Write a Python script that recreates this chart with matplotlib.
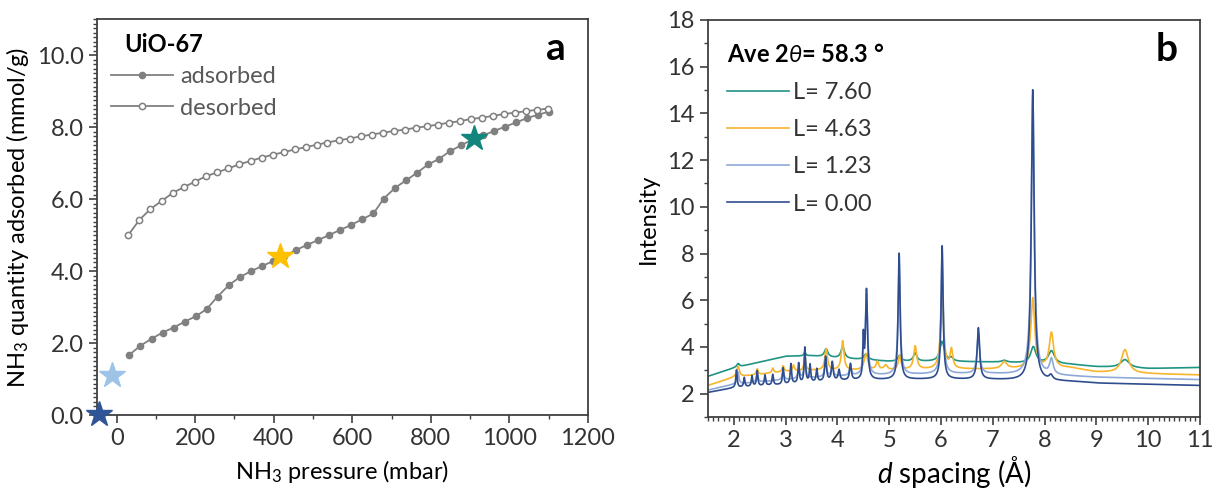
import matplotlib

matplotlib.use("Agg")

import matplotlib.pyplot as plt
import numpy as np
from matplotlib.lines import Line2D
from matplotlib.ticker import MultipleLocator

plt.rcParams["font.family"] = ["Lato", "DejaVu Sans"]
plt.rcParams["mathtext.fontset"] = "custom"
plt.rcParams["mathtext.rm"] = "Lato"
plt.rcParams["mathtext.it"] = "Lato:italic"
plt.rcParams["mathtext.bf"] = "Lato:bold"

# ---- panel a: NH3 isotherm ----
ads_p = [31, 60, 89, 117, 145, 173, 201, 229, 257, 286, 315, 343, 371, 399, 427,
         456, 484, 513, 541, 569, 597, 626, 654, 680, 709, 737, 765, 793, 820,
         849, 877, 905, 934, 961, 989, 1018, 1045, 1073, 1101]
ads_q = [1.66, 1.92, 2.12, 2.29, 2.43, 2.59, 2.74, 2.94, 3.29, 3.61, 3.84, 4.00,
         4.14, 4.28, 4.41, 4.58, 4.72, 4.86, 5.00, 5.14, 5.28, 5.44, 5.60, 6.01,
         6.31, 6.52, 6.73, 6.96, 7.11, 7.33, 7.49, 7.65, 7.77, 7.89, 8.01, 8.13,
         8.25, 8.34, 8.43]
des_p = [29, 58, 86, 115, 143, 171, 199, 227, 256, 284, 312, 341, 369, 397, 426,
         454, 482, 510, 536, 565, 593, 621, 649, 677, 706, 734, 762, 790, 818,
         846, 873, 901, 930, 958, 986, 1015, 1043, 1071, 1099]
des_q = [4.99, 5.42, 5.72, 5.95, 6.17, 6.33, 6.48, 6.63, 6.74, 6.85, 6.96, 7.06,
         7.15, 7.23, 7.30, 7.38, 7.44, 7.51, 7.57, 7.63, 7.68, 7.74, 7.79, 7.84,
         7.89, 7.93, 7.98, 8.02, 8.07, 8.12, 8.16, 8.22, 8.26, 8.31, 8.36, 8.40,
         8.44, 8.48, 8.51]
star_p = [-45, -13, 416, 910]
star_q = [0.03, 1.10, 4.43, 7.69]
star_colors = ["#2F5597", "#9DC3E6", "#FFC000", "#12857C"]

# ---- panel b: diffraction patterns (baseline anchors + peaks) ----
labels = ["L= 7.60", "L= 4.63", "L= 1.23", "L= 0.00"]
colors = ["#1F9484", "#F7B52C", "#8EA9D8", "#2F4D8E"]

base_d = [1.5, 2.0, 3.0, 3.5, 4.0, 5.0, 6.0, 7.0, 8.5, 9.0, 10.0, 11.0]
base_teal = [2.74, 3.10, 3.60, 3.62, 3.52, 3.38, 3.38, 3.35, 3.25, 3.15, 3.07, 3.12]
base_gold = [2.35, 2.70, 2.95, 3.00, 3.00, 3.00, 3.05, 3.05, 3.10, 2.92, 2.85, 2.80]
base_light = [2.15, 2.40, 2.60, 2.68, 2.75, 2.80, 2.85, 2.85, 2.75, 2.70, 2.65, 2.60]
base_dark = [2.05, 2.25, 2.40, 2.48, 2.55, 2.60, 2.62, 2.60, 2.52, 2.45, 2.40, 2.35]

pk_teal_d = [2.08, 3.37, 3.78, 4.10, 4.55, 5.20, 5.50, 6.02, 6.20, 7.22, 7.78, 8.13, 9.55]
pk_teal_h = [0.15, 0.15, 0.35, 0.50, 0.25, 0.25, 0.35, 0.85, 0.15, 0.08, 0.70, 0.55, 0.35]
pk_teal_w = [0.03, 0.02, 0.04, 0.04, 0.05, 0.04, 0.04, 0.05, 0.04, 0.06, 0.06, 0.07, 0.10]

pk_gold_d = [2.08, 2.45, 2.75, 2.95, 3.15, 3.37, 3.78, 4.10, 4.55, 4.77, 4.93,
             5.20, 5.50, 6.02, 6.20, 7.22, 7.77, 8.13, 9.55]
pk_gold_h = [0.45, 0.25, 0.20, 0.25, 0.25, 0.60, 0.90, 1.25, 0.70, 0.35, 0.20,
             0.60, 1.00, 3.30, 0.80, 0.30, 3.00, 1.50, 1.00]
pk_gold_w = [0.03, 0.02, 0.02, 0.02, 0.02, 0.02, 0.03, 0.03, 0.04, 0.03, 0.04,
             0.03, 0.035, 0.035, 0.03, 0.06, 0.045, 0.05, 0.08]

pk_light_d = [2.08, 2.45, 2.95, 3.25, 3.37, 3.77, 3.90, 4.25, 4.50, 4.56, 5.19,
              6.02, 6.72, 7.77, 8.13]
pk_light_h = [0.50, 0.35, 0.40, 0.45, 0.90, 0.80, 0.50, 0.45, 1.30, 3.40, 4.80,
              5.20, 1.70, 12.0, 0.65]
pk_light_w = [0.02, 0.02, 0.02, 0.02, 0.02, 0.02, 0.02, 0.02, 0.015, 0.025, 0.025,
              0.025, 0.03, 0.035, 0.04]

pk_dark_d = [2.05, 2.20, 2.35, 2.45, 2.60, 2.75, 2.95, 3.10, 3.25, 3.37, 3.47,
             3.60, 3.77, 3.90, 4.03, 4.25, 4.50, 4.56, 5.19, 6.02, 6.72, 7.77, 8.12]
pk_dark_h = [0.75, 0.40, 0.45, 0.65, 0.45, 0.45, 0.70, 0.85, 0.85, 1.50, 0.75,
             0.55, 1.05, 0.80, 0.45, 0.70, 1.70, 3.85, 5.40, 5.70, 2.20, 12.45, 0.20]
pk_dark_w = [0.015, 0.015, 0.015, 0.015, 0.015, 0.015, 0.015, 0.015, 0.015, 0.015,
             0.015, 0.015, 0.02, 0.02, 0.02, 0.02, 0.012, 0.022, 0.022, 0.022,
             0.028, 0.032, 0.04]

series = [
    (base_teal, pk_teal_d, pk_teal_h, pk_teal_w),
    (base_gold, pk_gold_d, pk_gold_h, pk_gold_w),
    (base_light, pk_light_d, pk_light_h, pk_light_w),
    (base_dark, pk_dark_d, pk_dark_h, pk_dark_w),
]


def pattern(d, base, pos, amp, wid):
    y = np.interp(d, base_d, base)
    for p, a, w in zip(pos, amp, wid):
        y = y + a / (1 + ((d - p) / w) ** 2)
    return y


TICK = "#404040"
FS = 17

fig = plt.figure(figsize=(12.14, 4.93), dpi=100)
ax1 = fig.add_axes([0.0799, 0.1582, 0.4044, 0.8032])
ax2 = fig.add_axes([0.5832, 0.1542, 0.4053, 0.8053])

# panel a
ax1.plot(ads_p, ads_q, "-o", color="#808080", lw=1.3, ms=4.5,
         mfc="#808080", mec="#808080", zorder=3)
ax1.plot(des_p, des_q, "-o", color="#808080", lw=1.3, ms=4.5,
         mfc="white", mec="#808080", mew=1.1, zorder=3)
for p, q, c in zip(star_p, star_q, star_colors):
    ax1.plot(p, q, "*", ms=19, color=c, mec=c, clip_on=False, zorder=5)
ax1.set_xlim(-50, 1200)
ax1.set_ylim(0, 11)
ax1.xaxis.set_major_locator(MultipleLocator(200))
ax1.xaxis.set_minor_locator(MultipleLocator(100))
ax1.yaxis.set_minor_locator(MultipleLocator(0.125))
ax1.set_yticks(np.arange(0, 11, 2))
ax1.set_yticklabels([f"{v:.1f}" for v in np.arange(0, 11, 2)])
ax1.set_xlabel("NH$_3$ pressure (mbar)", fontsize=FS, labelpad=6)
ax1.set_ylabel("NH$_3$ quantity adsorbed (mmol/g)", fontsize=FS, labelpad=4)
ax1.text(0.055, 0.935, "UiO-67", transform=ax1.transAxes, fontsize=FS,
         fontweight="bold", va="center", ha="left")
ax1.text(0.955, 0.925, "a", transform=ax1.transAxes, fontsize=28,
         fontweight="bold", va="center", ha="right")
h_a = [Line2D([], [], color="#808080", lw=1.3, marker="o", ms=4.5, mfc="#808080"),
       Line2D([], [], color="#808080", lw=1.3, marker="o", ms=4.5, mfc="white", mew=1.1)]
ax1.legend(h_a, ["adsorbed", "desorbed"], loc="upper left",
           bbox_to_anchor=(0.01, 0.905), frameon=False, fontsize=FS,
           handlelength=2.6, handletextpad=0.3, labelspacing=0.45,
           borderaxespad=0, labelcolor="#595959")

# panel b
d = np.linspace(1.5, 11, 6000)
for (base, pos, amp, wid), c, lab in zip(series, colors, labels):
    ax2.plot(d, pattern(d, base, pos, amp, wid), color=c, lw=1.2, label=lab)
ax2.set_xlim(1.5, 11)
ax2.set_ylim(1, 18)
ax2.xaxis.set_major_locator(MultipleLocator(1))
ax2.xaxis.set_minor_locator(MultipleLocator(0.1))
ax2.yaxis.set_minor_locator(MultipleLocator(1))
ax2.set_yticks(np.arange(2, 19, 2))
ax2.set_xlabel("$d$ spacing (Å)", fontsize=20, labelpad=2)
ax2.set_ylabel("Intensity", fontsize=FS, labelpad=6)
ax2.legend(loc="upper left", bbox_to_anchor=(0.02, 0.965), frameon=False,
           fontsize=FS, handlelength=2.6, handletextpad=0.2,
           labelspacing=0.68, borderaxespad=0, labelcolor="#333333",
           title=r"Ave 2$\theta$= 58.3 °",
           title_fontproperties={"weight": "bold", "size": FS},
           alignment="left")
ax2.text(0.955, 0.925, "b", transform=ax2.transAxes, fontsize=28,
         fontweight="bold", va="center", ha="right")

for ax in (ax1, ax2):
    for s in ax.spines.values():
        s.set_color(TICK)
        s.set_linewidth(1.3)
    ax.tick_params(which="major", direction="out", length=6, width=1.2,
                   color=TICK, labelsize=FS, labelcolor="#333333")
    ax.tick_params(which="minor", direction="out", length=3, width=1.0, color=TICK)
    ax.tick_params(top=False, right=False, which="both")

fig.savefig("out.png", dpi=100)
